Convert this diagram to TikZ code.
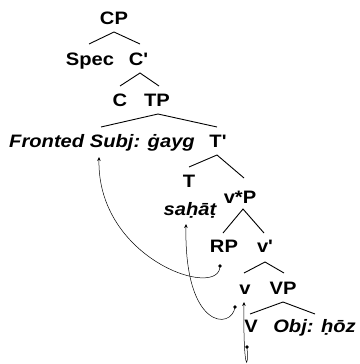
\documentclass[tikz,border=0pt]{standalone}
\usepackage{fontspec}
\setmainfont{Liberation Sans}[Ligatures=TeXOff,FakeStretch=1.12]
\usetikzlibrary{arrows.meta}
\begin{document}
\begin{tikzpicture}[x=1pt,y=-1pt,
  lbl/.style={font=\fontsize{18}{20}\selectfont\bfseries, inner sep=0pt, anchor=base},
  ilbl/.style={lbl, font=\fontsize{18}{20}\selectfont\bfseries\itshape},
  branch/.style={line width=0.9pt},
  mv/.style={line width=0.5pt, -{Stealth[length=4pt,width=3.5pt]}},
  dot/.style={circle, fill=black, inner sep=0pt, minimum size=3.6pt}]
\useasboundingbox (0,0) rectangle (359,364);
\node[lbl] (CP) at (114,24) {CP};
\node[lbl] (Spec) at (90,65) {Spec};
\node[lbl] (Cp) at (138.5,65) {C'};
\node[lbl] (C) at (120,106) {C};
\node[lbl] (TP) at (157,106) {TP};
\node[ilbl] (Fr) at (102,147) {Fronted Subj: ġayg};
\node[lbl] (Tp) at (218,147) {T'};
\node[lbl] (T) at (189,187) {T};
\node[ilbl] (sa) at (190,215) {saḥāṭ};
\node[lbl] (vP) at (240,203) {v*P};
\node[lbl] (RP) at (224,252) {RP};
\node[lbl] (vp) at (265,252) {v'};
\node[lbl] (v) at (245,294) {v};
\node[lbl] (VP) at (283,294) {VP};
\node[lbl] (V) at (251,332) {V};
\node[ilbl] (Obj) at (314.5,332) {Obj: ḥōz};
% branches
\draw[branch] ([shift={(-1,-21)}]Spec.base) -- ([shift={(0,8)}]CP.base) -- ([shift={(1.5,-21)}]Cp.base);
\draw[branch] ([shift={(0,-20)}]C.base) -- ([shift={(1.5,8)}]Cp.base) -- ([shift={(2,-20)}]TP.base);
\draw[branch] ([shift={(-1,-20)}]Fr.base) -- ([shift={(1,8)}]TP.base) -- ([shift={(-1,-20)}]Tp.base);
\draw[branch] ([shift={(0,-20)}]T.base) -- ([shift={(-1,8)}]Tp.base) -- ([shift={(4,-25)}]vP.base);
\draw[branch] ([shift={(-1,-19)}]RP.base) -- ([shift={(3,6)}]vP.base) -- ([shift={(-1,-19)}]vp.base);
\draw[branch] ([shift={(-1,-21)}]v.base) -- ([shift={(0,10)}]vp.base) -- ([shift={(1,-21)}]VP.base);
\draw[branch] ([shift={(-1,-18)}]V.base) -- ([shift={(0,8)}]VP.base) -- ([shift={(0.5,-18)}]Obj.base);
% movement
\node[dot] (d1) at (220,266) {};
\node[dot] (d2) at (235,307) {};
\node[dot] (d3) at (247,347) {};
\coordinate (a1) at (99,157);
\coordinate (a2) at (186,224);
\coordinate (a3) at (244,302);
\draw[mv] (d1.center) .. controls (220,300) and (97,260) .. (a1);
\draw[mv] (d2.center) .. controls (232,330) and (184,330) .. (a2);
\draw[mv] (d3.center) .. controls (249,372) and (243,372) .. (a3);
\end{tikzpicture}
\end{document}
